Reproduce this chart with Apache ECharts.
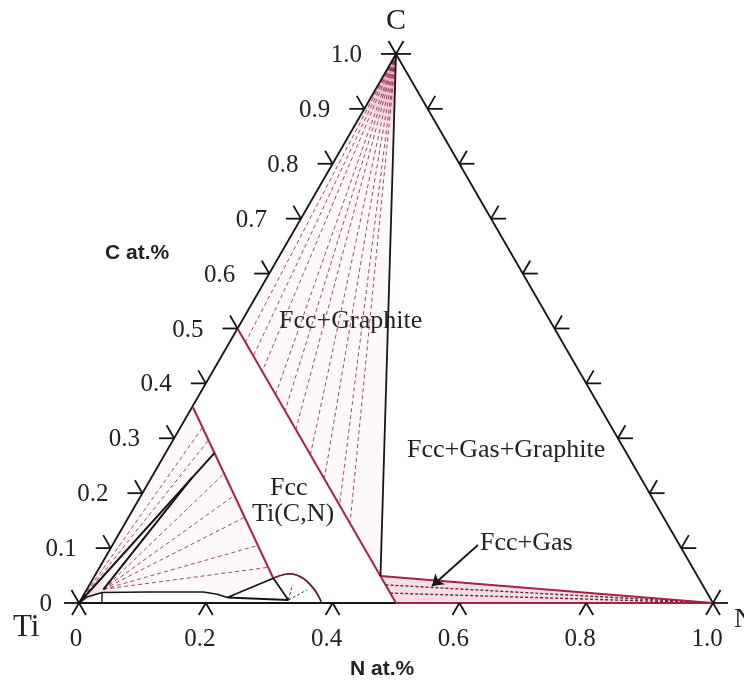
<!DOCTYPE html>
<html>
<head>
<meta charset="utf-8">
<script src="https://cdn.jsdelivr.net/npm/echarts@6/dist/echarts.min.js"></script>
<style>
  html, body { margin: 0; padding: 0; background: #ffffff; }
  #chart { width: 744px; height: 682px; }
</style>
</head>
<body>
<div id="chart"></div>
<script>
// Ti-C-N isothermal section. Every composition is written as [N, C] mole fractions.

// axis ticks
const sideTickValues = [0, 0.1, 0.2, 0.3, 0.4, 0.5, 0.6, 0.7, 0.8, 0.9, 1.0];
const sideTickLabels = ['0', '0.1', '0.2', '0.3', '0.4', '0.5', '0.6', '0.7', '0.8', '0.9', '1.0'];
const baseTickValues = [0, 0.2, 0.4, 0.6, 0.8, 1.0];
const baseTickLabels = ['0', '0.2', '0.4', '0.6', '0.8', '1.0'];

// triangle corners
const cornerTi = [0, 0];
const cornerN = [1, 0];
const cornerC = [0, 1];

// Fcc Ti(C,N) phase boundaries
const ti50Line = [[0, 0.5], [0.5, 0]];
const fccLeftBoundary = [[0.002, 0.356], [0.284, 0.045]];
const fccCorner = [0.451, 0.049];
const graphiteEdge = [cornerC, fccCorner];
const gasEdge = [fccCorner, cornerN];

// Ti-rich corner
const hcpBoundary = [[0, 0], [0.007, 0.011], [0.027, 0.019], [0.10, 0.020], [0.186, 0.020], [0.210, 0.016], [0.229, 0.010]];
const hcpStub = [[0.036, 0], [0.027, 0.019]];
const lowTriangle = [[0.229, 0.010], [0.284, 0.045], [0.3275, 0.0055], [0.229, 0.010]];
const dome = [[0.284, 0.045], [0.295, 0.051], [0.307, 0.053], [0.331, 0.045], [0.356, 0.027], [0.372, 0.012], [0.381, 0.002]];
const domeTieEnds = [[0.320, 0.033], [0.348, 0.024]];
const domeTieStart = [0.3275, 0.0055];

// three-phase triangle next to the Ti corner
const hcpFccLine1 = [[0, 0], [0.077, 0.273]];
const hcpFccLine2 = [[0.026, 0.025], [0.064, 0.229]];

// tie lines: Ti corner fan and the fan from the Hcp side
const upperFanEnds = [[0.035, 0.320], [0.056, 0.296]];
const lowerFanStart = [0.026, 0.025];
const lowerFanEnds = [[0.111, 0.236], [0.147, 0.196], [0.183, 0.156], [0.230, 0.105], [0.266, 0.065]];

// tie lines Fcc + Graphite, ending on the Ti50 line
const graphiteTieEnds = [[0.025, 0.475], [0.050, 0.450], [0.078, 0.422], [0.120, 0.380], [0.150, 0.350],
                         [0.184, 0.316], [0.230, 0.270], [0.274, 0.226], [0.322, 0.178], [0.355, 0.145]];
// tie lines Fcc + Gas
const gasTieEnds = [[0.467, 0.033], [0.482, 0.018]];

// label arrow for the Fcc+Gas field
const gasArrow = [[0.5765, 0.1056], [0.5413, 0.031]];

// region outlines used for the pale fills
const graphiteField = [[0, 0.5], cornerC, fccCorner];
const gasField = [fccCorner, [0.5, 0], cornerN];
const cornerField = [[0, 0], [0.002, 0.356], [0.284, 0.045], [0.229, 0.010], [0.186, 0.020], [0.027, 0.019]];

const S3 = Math.sqrt(3) / 2;
function xy(p) { return [p[0] + p[1] / 2, p[1] * S3]; }

const RED = '#a3243f';
const INK = '#151515';
const TIE = 'rgba(150,40,70,0.85)';
const SERIF = '"Liberation Serif", "Times New Roman", serif';
const SANS = '"Liberation Sans", Arial, sans-serif';

function path(points, color, width, extra) {
  return Object.assign({
    type: 'line', data: points.map(xy), showSymbol: false, symbol: 'none', smooth: false,
    lineStyle: { color: color, width: width }, silent: true, animation: false, z: 5
  }, extra || {});
}
function fan(start, ends, color, width, dash, z) {
  return {
    type: 'lines', coordinateSystem: 'cartesian2d', polyline: false, silent: true, animation: false, z: z || 3,
    lineStyle: { color: color, width: width, type: dash, opacity: 1 },
    data: ends.map(e => ({ coords: [xy(start), xy(e)] }))
  };
}
// pale fill of a field; when a focus corner is given, the tint deepens towards it
function fill(poly, color, focus, radius, deep) {
  return {
    type: 'custom', coordinateSystem: 'cartesian2d', data: [[0, 0]], silent: true, animation: false, z: 1,
    renderItem: (params, api) => {
      let paint = color;
      if (focus) {
        const c = api.coord(xy(focus));
        paint = new echarts.graphic.RadialGradient(c[0], c[1], radius, [
          { offset: 0, color: deep },
          { offset: 1, color: color }
        ], true);
      }
      return {
        type: 'polygon',
        shape: { points: poly.map(q => api.coord(xy(q))) },
        style: { fill: paint }
      };
    }
  };
}

// tick marks with their labels, drawn around points on each side
function sideTicks(kind) {
  const values = kind === 'base' ? baseTickValues : sideTickValues;
  return {
    type: 'custom', coordinateSystem: 'cartesian2d', silent: true, animation: false, z: 6,
    data: values.map((v, i) => [i, v]),
    renderItem: (params, api) => {
      const i = params.dataIndex;
      const v = values[i];
      const stroke = { stroke: INK, lineWidth: 1.8 };
      let p, kids = [];
      if (kind === 'left') {
        p = api.coord(xy([0, v]));
        kids.push({ type: 'line', shape: { x1: p[0] - 15, y1: p[1], x2: p[0], y2: p[1] }, style: stroke });
        kids.push({ type: 'line', shape: { x1: p[0] - 7.5, y1: p[1] - 13, x2: p[0], y2: p[1] }, style: stroke });
        kids.push({ type: 'text', style: { text: sideTickLabels[i], x: p[0] - (i === 0 ? 27 : 34), y: p[1] + 1.5,
          align: 'right', verticalAlign: 'middle', font: '25px ' + SERIF, fill: '#222' } });
      } else if (kind === 'right') {
        p = api.coord(xy([1 - v, v]));
        kids.push({ type: 'line', shape: { x1: p[0], y1: p[1], x2: p[0] + 15, y2: p[1] }, style: stroke });
        kids.push({ type: 'line', shape: { x1: p[0], y1: p[1], x2: p[0] + 7.5, y2: p[1] - 13 }, style: stroke });
      } else {
        p = api.coord(xy([v, 0]));
        kids.push({ type: 'line', shape: { x1: p[0], y1: p[1], x2: p[0] - 7, y2: p[1] + 12 }, style: stroke });
        kids.push({ type: 'line', shape: { x1: p[0], y1: p[1], x2: p[0] + 7, y2: p[1] + 12 }, style: stroke });
        kids.push({ type: 'text', style: { text: baseTickLabels[i], x: p[0] - (i === 0 ? 3 : 6), y: p[1] + 36,
          align: 'center', verticalAlign: 'middle', font: '25px ' + SERIF, fill: '#222' } });
      }
      return { type: 'group', children: kids };
    }
  };
}

const chart = echarts.init(document.getElementById('chart'), null, { renderer: 'canvas', width: 744, height: 682 });

const PX = 634;
chart.setOption({
  backgroundColor: '#ffffff',
  animation: false,
  grid: { left: 0, right: 0, top: 0, bottom: 0, containLabel: false },
  xAxis: { type: 'value', min: -79 / PX, max: 665 / PX, show: false },
  yAxis: { type: 'value', min: -79 / PX, max: 603 / PX, show: false },
  graphic: [
    { type: 'text', left: 386, top: 6, style: { text: 'C', font: '30px ' + SERIF, fill: '#222' } },
    { type: 'text', left: 13, top: 612, style: { text: 'Ti', font: '31px ' + SERIF, fill: '#222' } },
    { type: 'text', left: 734, top: 606, style: { text: 'N', font: '28px ' + SERIF, fill: '#222' } },
    { type: 'text', left: 105, top: 243, style: { text: 'C at.%', font: 'bold 21px ' + SANS, fill: '#222' } },
    { type: 'text', left: 350, top: 659, style: { text: 'N at.%', font: 'bold 21px ' + SANS, fill: '#222' } },
    { type: 'text', left: 279, top: 308, style: { text: 'Fcc+Graphite', font: '26px ' + SERIF, fill: '#222' } },
    { type: 'text', left: 407, top: 437, style: { text: 'Fcc+Gas+Graphite', font: '26px ' + SERIF, fill: '#222' } },
    { type: 'text', left: 270, top: 475, style: { text: 'Fcc', font: '26px ' + SERIF, fill: '#222' } },
    { type: 'text', left: 252, top: 501, style: { text: 'Ti(C,N)', font: '26px ' + SERIF, fill: '#222' } },
    { type: 'text', left: 480, top: 530, style: { text: 'Fcc+Gas', font: '26px ' + SERIF, fill: '#222' } }
  ],
  series: [
    fill(graphiteField, 'rgba(205,90,125,0.04)', cornerC, 90, 'rgba(185,45,95,0.55)'),
    fill(cornerField, 'rgba(205,90,125,0.04)', cornerTi, 45, 'rgba(200,70,110,0.25)'),
    fill(gasField, 'rgba(205,90,125,0.20)'),

    fan(cornerC, graphiteTieEnds, TIE, 1, [4, 3]),
    fan(cornerTi, upperFanEnds, TIE, 1, [4, 3]),
    fan(lowerFanStart, lowerFanEnds, TIE, 1, [4, 3]),
    fan(cornerN, gasTieEnds, 'rgba(90,20,40,0.9)', 1.4, [3, 2]),
    fan(domeTieStart, domeTieEnds, 'rgba(60,30,40,0.9)', 1, [3, 2]),

    // triangle sides
    path([cornerTi, cornerN], INK, 1.8),
    path([[0.5, 0], cornerN], RED, 2),
    path([cornerN, cornerC], INK, 1.8),
    path([cornerC, cornerTi], INK, 1.8),

    // phase boundaries
    path(ti50Line, RED, 2),
    path(fccLeftBoundary, RED, 2),
    path(gasEdge, RED, 2),
    path(graphiteEdge, INK, 1.8),
    path(hcpBoundary, INK, 1.6),
    path(hcpStub, INK, 1.4),
    path(lowTriangle, INK, 1.8),
    path(dome, '#5a1a28', 1.8, { smooth: 0.4 }),
    path(hcpFccLine1, INK, 2),
    path(hcpFccLine2, INK, 2),

    {
      type: 'lines', coordinateSystem: 'cartesian2d', silent: true, animation: false, z: 7,
      symbol: ['none', 'arrow'], symbolSize: 11,
      itemStyle: { color: INK, opacity: 1 },
      lineStyle: { color: INK, width: 1.8, type: 'solid', opacity: 1 },
      data: [{ coords: gasArrow.map(xy) }]
    },

    sideTicks('left'),
    sideTicks('right'),
    sideTicks('base')
  ]
});
</script>
</body>
</html>
